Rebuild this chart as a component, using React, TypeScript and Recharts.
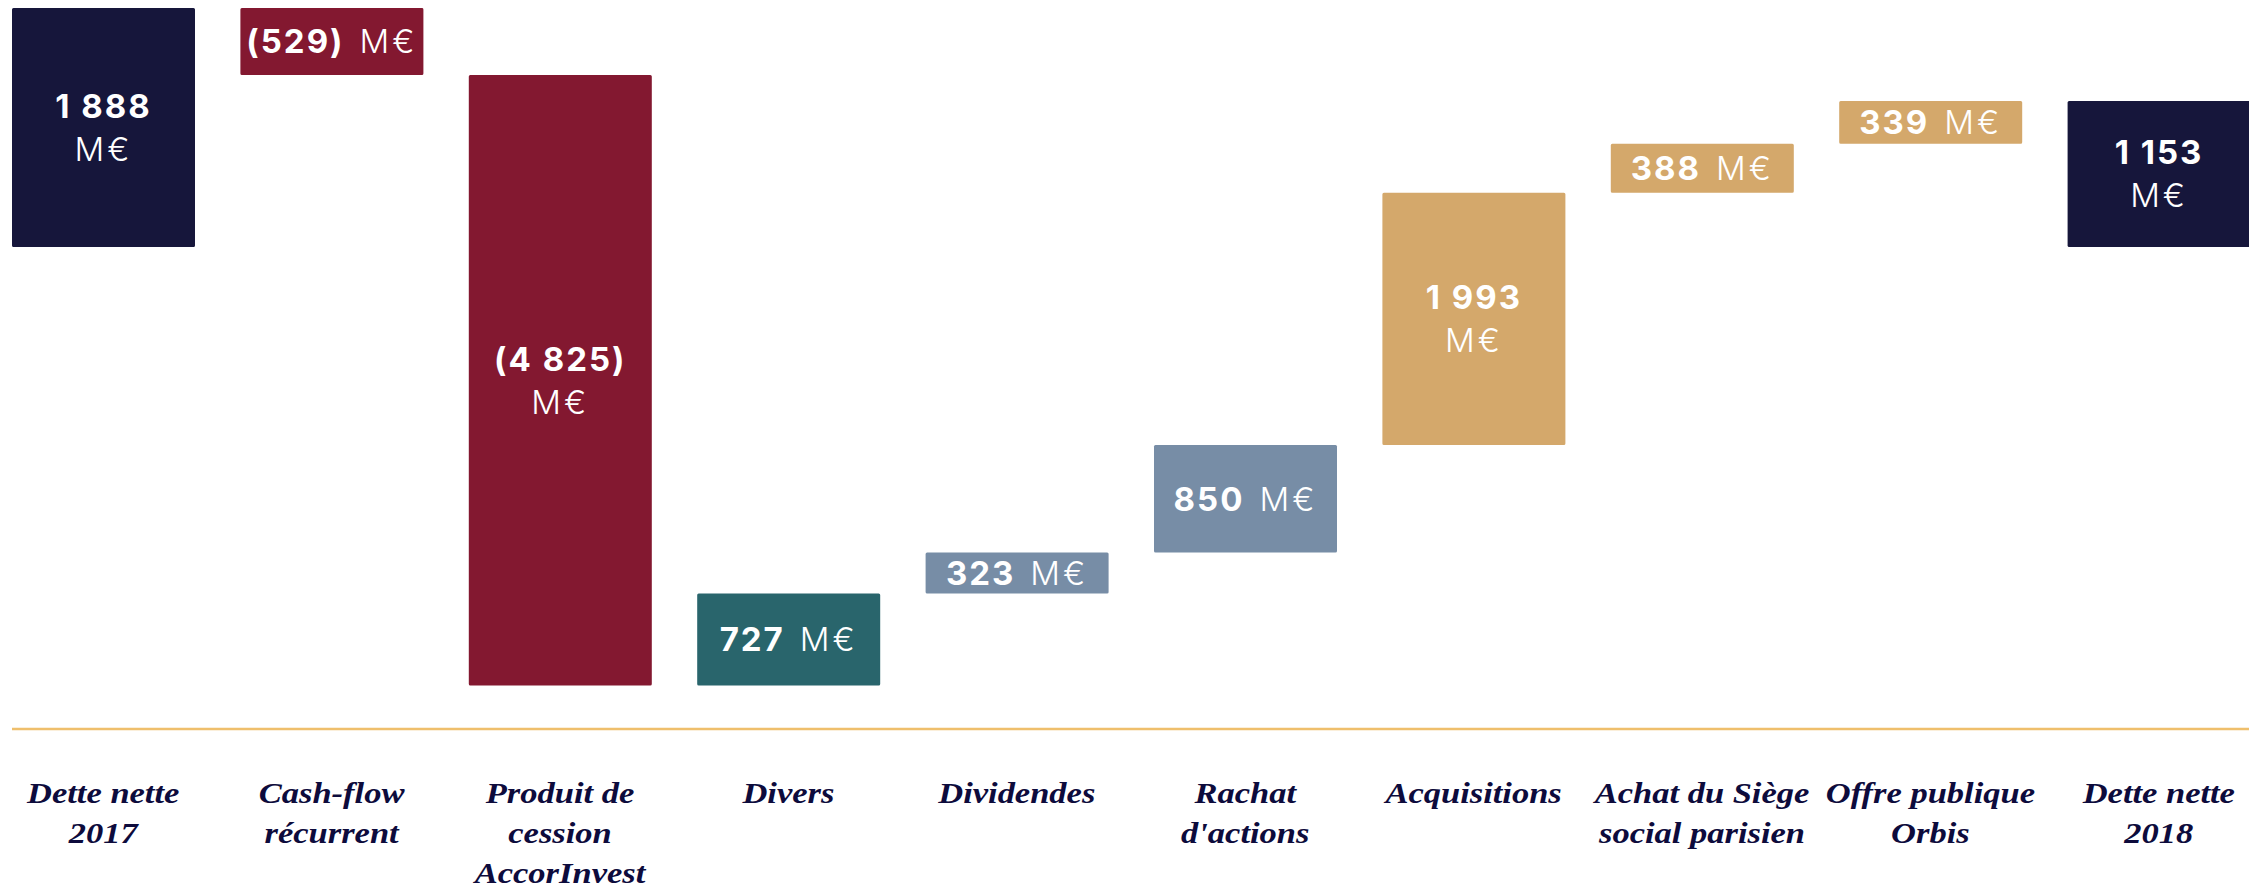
import React from 'react';
import { BarChart, Bar, XAxis, YAxis, Rectangle } from 'recharts';

const categories = [
  "Dette nette\n2017",
  "Cash-flow\nrécurrent",
  "Produit de\ncession\nAccorInvest",
  "Divers",
  "Dividendes",
  "Rachat\nd'actions",
  "Acquisitions",
  "Achat du Siège\nsocial parisien",
  "Offre publique\nOrbis",
  "Dette nette\n2018",
];
const values = [1888, -529, -4825, 727, 323, 850, 1993, 388, 339, 1153];
const isTotal = [true, false, false, false, false, false, false, false, false, true];
const valueLabels = ["1 888", "(529)", "(4 825)", "727", "323", "850", "1 993", "388", "339", "1 153"];
const twoLineLabel = [true, false, true, false, false, false, true, false, false, true];
const unit = "M€";
const yDomain: [number, number] = [-3810, 1888];

const barColors = ["#16163b", "#831830", "#831830", "#29656c", "#778da6", "#778da6", "#d4a86b", "#d4a86b", "#d4a86b", "#16163b"];

let level = 0;
const data = categories.map((name, i) => {
  let a: number, b: number;
  if (isTotal[i]) {
    a = 0; b = values[i]; level = values[i];
  } else {
    a = level; b = level + values[i]; level += values[i];
  }
  return { name, range: [Math.min(a, b), Math.max(a, b)], label: valueLabels[i], twoLine: twoLineLabel[i], color: barColors[i] };
});

const numFont = "Inter, 'Open Sans', sans-serif";

const BarShape = (props: any) => {
  const { x, y, width, height, index } = props;
  const d = data[index];
  const cx = x + width / 2;
  const cy = y + height / 2;
  const fs = 33;
  const base = fs * 0.36;
  return (
    <g>
      <Rectangle x={x} y={y} width={width} height={height} fill={d.color} radius={1.5} />
      {d.twoLine ? (
        <text textAnchor="middle" fontFamily={numFont} fill="#ffffff" fontSize={fs}>
          <tspan x={cx} y={cy - 21.5 + base} fontWeight={700} letterSpacing={2}>{d.label}</tspan>
          <tspan x={cx} y={cy + 21.5 + base} fontWeight={300} letterSpacing={3}>{unit}</tspan>
        </text>
      ) : (
        <text x={cx} y={cy + base} textAnchor="middle" fontFamily={numFont} fill="#ffffff" fontSize={fs}>
          <tspan fontWeight={700} letterSpacing={2}>{d.label}</tspan>
          <tspan fontWeight={300} dx={15} letterSpacing={3}>{unit}</tspan>
        </text>
      )}
    </g>
  );
};

const Tick = (props: any) => {
  const { x, y, payload } = props;
  const lines = String(payload.value).split("\n");
  return (
    <g transform={`translate(${x},${y})`}>
      <text
        textAnchor="middle"
        fontFamily="'Liberation Serif', serif"
        fontStyle="italic"
        fontWeight="bold"
        fontSize={30}
        fill="#0d0b3c"
        transform="scale(1.15,1)"
      >
        {lines.map((l, i) => (
          <tspan key={i} x={0} y={74 + i * 40}>{l}</tspan>
        ))}
      </text>
    </g>
  );
};

export default function App() {
  return (
    <div style={{ width: 2249, height: 879 }}>
      <BarChart width={2249} height={879} data={data} margin={{ top: 0, right: 7, left: 4, bottom: 0 }}>
        <XAxis
          dataKey="name"
          interval={0}
          tickLine={false}
          tickSize={0}
          tickMargin={0}
          height={158}
          padding={{ left: -23, right: -23 }}
          axisLine={{ stroke: '#efbf6c', strokeWidth: 2.5 }}
          tick={<Tick />}
        />
        <YAxis hide type="number" domain={yDomain} allowDataOverflow />
        <Bar dataKey="range" barSize={183} isAnimationActive={false} shape={<BarShape />} />
      </BarChart>
    </div>
  );
}
